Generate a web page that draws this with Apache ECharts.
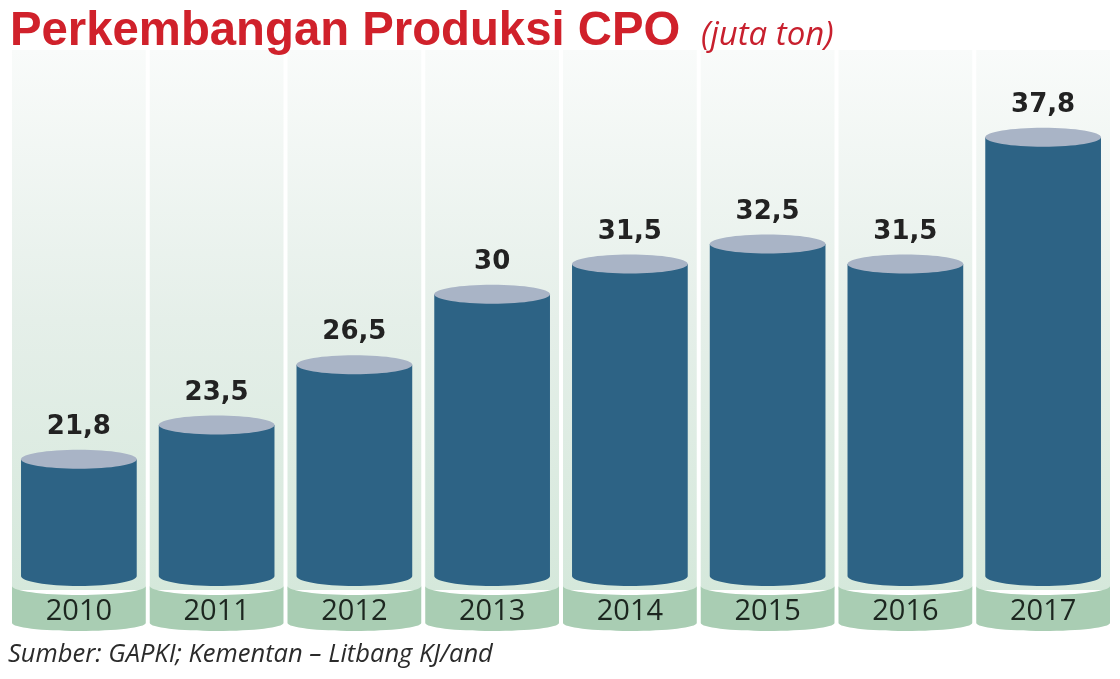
<!DOCTYPE html>
<html><head><meta charset="utf-8">
<script src="https://cdn.jsdelivr.net/npm/echarts@6/dist/echarts.min.js"></script>
<style>html,body{margin:0;padding:0;background:#fff}#c{width:1120px;height:679px}</style>
</head><body><div id="c"></div>
<script>
const categories = ['2010', '2011', '2012', '2013', '2014', '2015', '2016', '2017'];
const production = [21.8, 23.5, 26.5, 30, 31.5, 32.5, 31.5, 37.8];
const titleText = 'Perkembangan Produksi CPO';
const unitText = '(juta ton)';
const sourceText = 'Sumber: GAPKI; Kementan \u2013 Litbang KJ/and';
const yMin = 16, yMax = 40;

const chart = echarts.init(document.getElementById('c'), null, { renderer: 'canvas' });

const K = 0.5523;
function lowerArcLR(cx, y, rx, ry) {
  return 'C ' + (cx - rx) + ' ' + (y + K * ry) + ' ' + (cx - K * rx) + ' ' + (y + ry) + ' ' + cx + ' ' + (y + ry) +
    ' C ' + (cx + K * rx) + ' ' + (y + ry) + ' ' + (cx + rx) + ' ' + (y + K * ry) + ' ' + (cx + rx) + ' ' + y;
}
function lowerArcRL(cx, y, rx, ry) {
  return 'C ' + (cx + rx) + ' ' + (y + K * ry) + ' ' + (cx + K * rx) + ' ' + (y + ry) + ' ' + cx + ' ' + (y + ry) +
    ' C ' + (cx - K * rx) + ' ' + (y + ry) + ' ' + (cx - rx) + ' ' + (y + K * ry) + ' ' + (cx - rx) + ' ' + y;
}

function renderItem(params, api) {
  const idx = api.value(0);
  const val = api.value(1);
  const top = api.coord([idx, val]);
  const cx = top[0], yTop = top[1];
  const cs = params.coordSys;
  const base = cs.y + cs.height;
  const bw = api.size([1, 0])[0];
  const colHalf = bw / 2 - 2;
  const barHalf = bw * 0.42;
  const ry = 9.5;

  const bandTop = base + 10, bandBot = base + 47;
  const bandPath = 'M ' + (cx - colHalf) + ' ' + bandTop + ' ' + lowerArcLR(cx, bandTop, colHalf, 9) +
    ' L ' + (cx + colHalf) + ' ' + bandBot + ' ' + lowerArcRL(cx, bandBot, colHalf, 8) + ' Z';
  const barPath = 'M ' + (cx - barHalf) + ' ' + yTop + ' L ' + (cx - barHalf) + ' ' + base + ' ' +
    lowerArcLR(cx, base, barHalf, 10) + ' L ' + (cx + barHalf) + ' ' + yTop + ' Z';

  const label = String(val).replace('.', ',');
  return {
    type: 'group',
    children: [
      {
        type: 'rect',
        shape: { x: cx - colHalf, y: 50, width: colHalf * 2, height: bandTop + 4 - 50 },
        style: {
          fill: new echarts.graphic.LinearGradient(0, 0, 0, 1, [
            { offset: 0, color: '#f9fbfa' },
            { offset: 0.5, color: '#e5efe9' },
            { offset: 1, color: '#d5e8db' }
          ])
        }
      },
      {
        type: 'path',
        shape: { pathData: bandPath },
        style: { fill: '#a9cdb3' }
      },
      {
        type: 'path',
        shape: { pathData: barPath },
        style: { fill: '#2d6385' }
      },
      {
        type: 'ellipse',
        shape: { cx: cx, cy: yTop, rx: barHalf, ry: ry },
        style: { fill: '#a9b4c6' }
      },
      {
        type: 'text',
        style: {
          text: label, x: cx, y: yTop - 32, align: 'center', verticalAlign: 'middle',
          font: 'bold 26px "DejaVu Sans"', fill: '#222222'
        }
      }
    ]
  };
}

chart.setOption({
  animation: false,
  backgroundColor: '#ffffff',
  grid: { left: 10, right: 8, top: 93, bottom: 103 },
  xAxis: {
    type: 'category', data: categories, z: 10,
    axisLine: { show: false }, axisTick: { show: false }, splitLine: { show: false },
    axisLabel: { fontFamily: 'Open Sans', fontSize: 29, color: '#1c261f', margin: 21 }
  },
  yAxis: { type: 'value', min: yMin, max: yMax, show: false, splitLine: { show: false } },
  graphic: [
    {
      type: 'text', z: 100,
      style: { text: titleText, x: 10, y: 32, verticalAlign: 'middle', align: 'left',
        font: 'bold 47.3px "Liberation Sans"', fill: '#d0212b' }
    },
    {
      type: 'text', z: 100,
      style: { text: unitText, x: 701, y: 36, verticalAlign: 'middle', align: 'left',
        font: 'italic 33px "Open Sans"', fill: '#c8202e' }
    },
    {
      type: 'text', z: 100,
      style: { text: sourceText, x: 8, y: 655, verticalAlign: 'middle', align: 'left',
        font: 'italic 25.5px "Open Sans"', fill: '#2b2b2b' }
    }
  ],
  series: [{
    type: 'custom',
    renderItem: renderItem,
    data: production.map(function (v, i) { return [i, v]; }),
    encode: { x: 0, y: 1 },
    clip: false
  }]
});
</script></body></html>
